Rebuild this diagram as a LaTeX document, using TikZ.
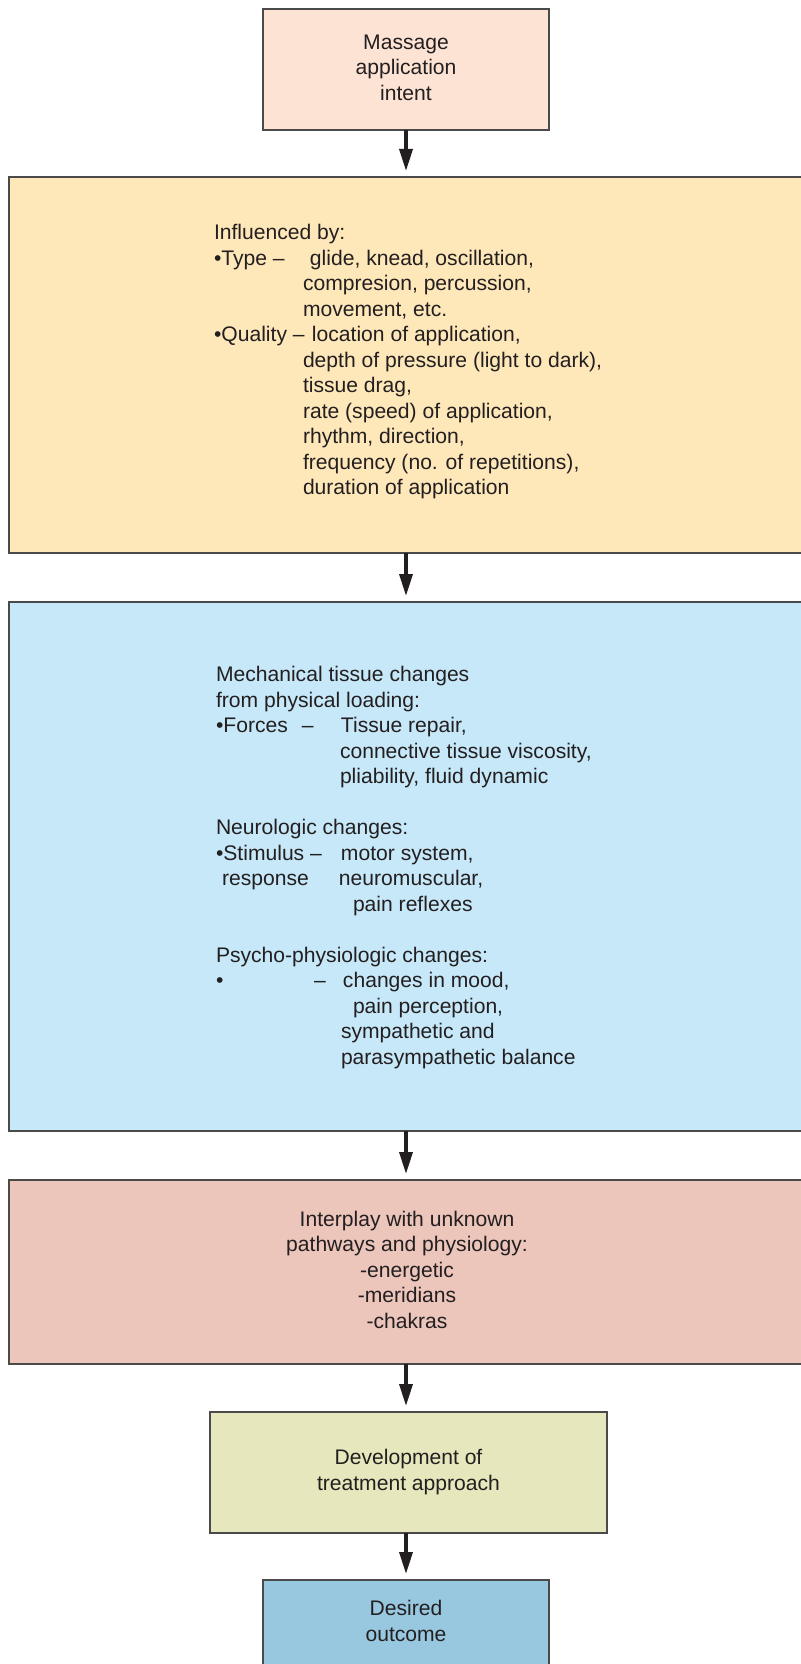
\documentclass[tikz,border=0pt]{standalone}
\usepackage{fontspec}
\setmainfont{Liberation Sans}
\usetikzlibrary{arrows.meta}

\definecolor{edge}{HTML}{4A4A4A}
\definecolor{ink}{HTML}{231F20}
\definecolor{intentfill}{HTML}{FDE3D4}
\definecolor{influencefill}{HTML}{FEE7B9}
\definecolor{changefill}{HTML}{C6E8F8}
\definecolor{interplayfill}{HTML}{ECC5BB}
\definecolor{approachfill}{HTML}{E6E7BC}
\definecolor{outcomefill}{HTML}{98C8DF}

% text starting at a fixed horizontal offset within a line
\newcommand{\col}[2]{\makebox[#1][l]{#2}}

\begin{document}
\begin{tikzpicture}[x=1pt,y=-1pt,
  txt/.style={text=ink, font=\fontsize{21.1}{25.5}\selectfont},
  box/.style={txt, draw=edge, line width=2pt, rectangle, inner sep=0pt,
    outer sep=0pt, align=center},
  body/.style={txt, inner sep=0pt, outer sep=0pt, anchor=north west, align=left},
  flow/.style={draw=ink, line width=3.5pt,
    -{Triangle[length=22pt,width=13pt]}, shorten >=6pt}]

\useasboundingbox (0,0) rectangle (800,1664);

% boxes
\node[box, fill=intentfill, minimum width=286pt, minimum height=121pt]
  (intent) at (406,69.5) {\strut Massage\\application\\intent\strut};

\node[box, fill=influencefill, minimum width=796pt, minimum height=376pt]
  (influence) at (407,365) {};
\node[body] (influencetext) at (214,222) {%
  \strut Influenced by:\\
  \col{96pt}{•Type –}glide, knead, oscillation,\\
  \hspace*{89pt}compresion, percussion,\\
  \hspace*{89pt}movement, etc.\\
  \col{98pt}{•Quality –}location of application,\\
  \hspace*{89pt}depth of pressure (light to dark),\\
  \hspace*{89pt}tissue drag,\\
  \hspace*{89pt}rate (speed) of application,\\
  \hspace*{89pt}rhythm, direction,\\
  \hspace*{89pt}frequency (no. of repetitions),\\
  \hspace*{89pt}duration of application\strut};

\node[box, fill=changefill, minimum width=796pt, minimum height=529pt]
  (changes) at (407,866.5) {};
\node[body] (changestext) at (216,664) {%
  \strut Mechanical tissue changes\\
  from physical loading:\\
  \col{125pt}{\col{86pt}{•Forces}–}Tissue repair,\\
  \hspace*{124pt}connective tissue viscosity,\\
  \hspace*{124pt}pliability, fluid dynamic\\
  \strut\\
  Neurologic changes:\\
  \col{125pt}{•Stimulus –}motor system,\\
  \col{123pt}{\hspace*{6pt}response}neuromuscular,\\
  \hspace*{137pt}pain reflexes\\
  \strut\\
  Psycho-physiologic changes:\\
  \col{127pt}{\col{98pt}{•}–}changes in mood,\\
  \hspace*{137pt}pain perception,\\
  \hspace*{125pt}sympathetic and\\
  \hspace*{125pt}parasympathetic balance\strut};

\node[box, fill=interplayfill, minimum width=796pt, minimum height=184pt]
  (interplay) at (407,1272) {\strut Interplay with unknown\\pathways and physiology:\\-energetic\\-meridians\\-chakras\strut};

\node[box, fill=approachfill, minimum width=397pt, minimum height=121pt]
  (approach) at (408.5,1472.5) {\strut Development of\\treatment approach\strut};

\node[box, fill=outcomefill, minimum width=286pt, minimum height=121pt]
  (outcome) at (406,1640.5) {};
\node[txt, align=center, inner sep=0pt] (outcometext) at (406,1623.5)
  {\strut Desired\\outcome\strut};

% connectors
\draw[flow] (intent.south) -- (intent.south |- influence.north);
\draw[flow] (intent.south |- influence.south) -- (intent.south |- changes.north);
\draw[flow] (intent.south |- changes.south) -- (intent.south |- interplay.north);
\draw[flow] (intent.south |- interplay.south) -- (intent.south |- approach.north);
\draw[flow] (intent.south |- approach.south) -- (intent.south |- outcome.north);
\end{tikzpicture}
\end{document}
